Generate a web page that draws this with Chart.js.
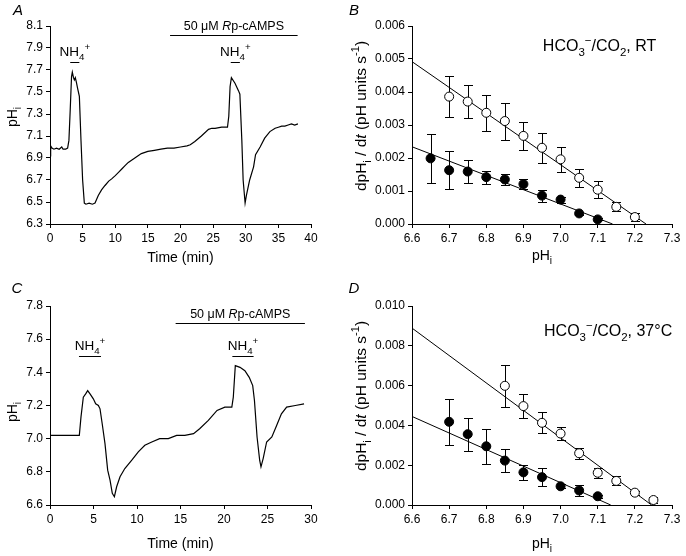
<!DOCTYPE html>
<html>
<head>
<meta charset="utf-8">
<script src="https://cdn.jsdelivr.net/npm/chart.js"></script>
<style>
body { margin: 0; background: #fff; width: 686px; height: 556px; position: relative; overflow: hidden }
canvas { position: absolute }
</style>
</head>
<body>
<canvas id="pA" width="343" height="278" style="left:0;top:0"></canvas>
<canvas id="pB" width="343" height="278" style="left:343px;top:0"></canvas>
<canvas id="pC" width="343" height="278" style="left:0;top:278px"></canvas>
<canvas id="pD" width="343" height="278" style="left:343px;top:278px"></canvas>
<script>
// panel A: pHi trace, room temperature
const A_TIME = [0, 0.1, 0.3, 0.6, 1.0, 1.4, 1.8, 2.0, 2.4, 2.7, 2.9, 3.1, 3.3, 3.42, 3.6, 3.73, 3.88, 4.04, 4.24, 4.5,
  4.75, 5.0, 5.26, 5.5, 6.0, 6.5, 6.9, 7.4, 7.9, 8.43, 9.0, 9.45, 10.0, 10.5, 11.0, 11.5, 12.0, 12.5, 13.0, 13.5,
  14.0, 15.0, 16.0, 17.0, 18.0, 19.0, 20.0, 21.0, 21.5, 22.2, 23.2, 24.3, 24.8, 25.3, 26.3, 27.2, 27.4, 27.6, 27.8, 28.35,
  28.9, 29.1, 29.4, 29.6, 29.9, 30.1, 30.6, 31.2, 31.5, 32.2, 32.9, 33.7, 34.5, 35.0, 35.5, 36.0, 36.5, 37.0, 37.5, 38.0]
const A_PHI = [6.92, 7.01, 6.99, 6.98, 6.99, 6.98, 7.0, 6.98, 6.98, 6.99, 7.06, 7.34, 7.64, 7.68, 7.63, 7.61, 7.63, 7.59, 7.53, 7.46,
  7.06, 6.70, 6.49, 6.48, 6.49, 6.48, 6.49, 6.56, 6.61, 6.65, 6.69, 6.71, 6.74, 6.77, 6.80, 6.83, 6.86, 6.88, 6.90, 6.92,
  6.94, 6.96, 6.97, 6.98, 6.99, 6.99, 7.0, 7.01, 7.02, 7.05, 7.10, 7.16, 7.17, 7.17, 7.18, 7.18, 7.28, 7.55, 7.63, 7.58,
  7.51, 7.48, 7.06, 6.70, 6.49, 6.56, 6.70, 6.82, 6.93, 7.0, 7.08, 7.14, 7.17, 7.18, 7.19, 7.19, 7.20, 7.21, 7.20, 7.21]
const A_NH4 = [[3.1, 4.5], [27.7, 29.1]]
const A_RP = [18.4, 37.95]
const A_XTICKS = [0, 5, 10, 15, 20, 25, 30, 35, 40]
const A_YTICKS = [6.3, 6.5, 6.7, 6.9, 7.1, 7.3, 7.5, 7.7, 7.9, 8.1]

// panel C: pHi trace, 37 C
const C_TIME = [0, 0.5, 1, 1.5, 2, 2.5, 3, 3.37, 3.56, 3.83, 4.1, 4.33, 4.6, 4.98, 5.25, 5.56, 5.75, 6.0, 6.32, 6.63,
  6.9, 7.16, 7.4, 7.66, 8.05, 8.6, 9.4, 10.15, 10.9, 11.7, 12.6, 13.6, 14.56, 15.5, 16.5, 17.2, 18.2, 19.2, 20.1, 20.9,
  21.07, 21.3, 21.84, 22.4, 22.9, 23.3, 23.5, 23.8, 24.1, 24.25, 24.5, 24.9, 25.5, 26.05, 26.6, 27.2, 28.2, 29.2]
const C_PHI = [7.02, 7.02, 7.02, 7.02, 7.02, 7.02, 7.02, 7.02, 7.13, 7.25, 7.27, 7.29, 7.27, 7.24, 7.21, 7.20, 7.18, 7.09, 6.97, 6.81,
  6.75, 6.67, 6.65, 6.71, 6.77, 6.82, 6.87, 6.92, 6.96, 6.98, 7.0, 7.0, 7.02, 7.02, 7.03, 7.06, 7.11, 7.17, 7.19, 7.19,
  7.25, 7.44, 7.43, 7.41, 7.37, 7.32, 7.23, 7.01, 6.87, 6.83, 6.88, 6.98, 7.01, 7.08, 7.15, 7.19, 7.20, 7.21]
const C_NH4 = [[3.33, 5.86], [20.96, 23.4]]
const C_RP = [14.44, 29.3]
const C_XTICKS = [0, 5, 10, 15, 20, 25, 30]
const C_YTICKS = [6.6, 6.8, 7.0, 7.2, 7.4, 7.6, 7.8]

// panel B: dpHi/dt vs pHi, RT (open = control, filled = Rp-cAMPS)
const B_OPEN_PH = [6.7, 6.75, 6.8, 6.85, 6.9, 6.95, 7.0, 7.05, 7.1, 7.15, 7.2]
const B_OPEN_RATE = [0.00386, 0.00371, 0.00337, 0.00312, 0.00267, 0.00231, 0.00196, 0.00140, 0.00104, 0.00052, 0.00021]
const B_OPEN_SEM = [0.00062, 0.00049, 0.00055, 0.00056, 0.00042, 0.00046, 0.00038, 0.00027, 0.00025, 0.000135, 0.000125]
const B_FILL_PH = [6.65, 6.7, 6.75, 6.8, 6.85, 6.9, 6.95, 7.0, 7.05, 7.1]
const B_FILL_RATE = [0.00199, 0.00163, 0.00159, 0.00142, 0.00135, 0.00121, 0.00086, 0.00074, 0.00032, 0.00014]
const B_FILL_SEM = [0.00074, 0.00058, 0.00035, 0.00020, 0.000155, 0.000155, 0.00018, 0.00009, 0.00004, 0.00003]
const B_OPEN_FIT = [[6.6, 0.00492], [7.23, 0]]
const B_FILL_FIT = [[6.6, 0.00234], [7.14, 0]]
const B_YTICKS = [0, 0.001, 0.002, 0.003, 0.004, 0.005, 0.006]

// panel D: dpHi/dt vs pHi, 37 C
const D_OPEN_PH = [6.85, 6.9, 6.95, 7.0, 7.05, 7.1, 7.15, 7.2, 7.25]
const D_OPEN_RATE = [0.00599, 0.00497, 0.00413, 0.00359, 0.00260, 0.00162, 0.00121, 0.00062, 0.00025]
const D_OPEN_SEM = [0.00106, 0.00059, 0.00053, 0.00033, 0.000285, 0.000255, 0.000225, 0.0001, 0.00015]
const D_FILL_PH = [6.7, 6.75, 6.8, 6.85, 6.9, 6.95, 7.0, 7.05, 7.1]
const D_FILL_RATE = [0.00418, 0.00356, 0.00295, 0.00223, 0.00164, 0.00140, 0.00094, 0.00073, 0.00044]
const D_FILL_SEM = [0.00114, 0.00083, 0.00087, 0.00059, 0.000375, 0.00044, 0.0001, 0.000285, 0.00008]
const D_OPEN_FIT = [[6.6, 0.00889], [7.245, 0]]
const D_FILL_FIT = [[6.6, 0.00445], [7.135, 0]]
const D_YTICKS = [0, 0.002, 0.004, 0.006, 0.008, 0.010]

const PH_TICKS = [6.6, 6.7, 6.8, 6.9, 7.0, 7.1, 7.2, 7.3]

const FONT = 'Arial, "Liberation Sans", Helvetica, sans-serif'
Chart.defaults.font.family = FONT
Chart.defaults.color = '#000'
Chart.defaults.animation = false

// tiny markup: _{sub} ^{sup} *italic*
function rich(s) {
  const out = []
  const re = /_\{([^}]*)\}|\^\{([^}]*)\}|\*([^*]*)\*|([^_^*]+)/g
  let m
  while ((m = re.exec(s))) {
    if (m[1] != null) out.push({ t: m[1], k: 'sub' })
    else if (m[2] != null) out.push({ t: m[2], k: 'sup' })
    else if (m[3] != null) out.push({ t: m[3], k: 'it' })
    else out.push({ t: m[4], k: '' })
  }
  return out
}

function segFont(seg, size) {
  const sz = (seg.k === 'sub' || seg.k === 'sup') ? size * 0.72 : size
  return (seg.k === 'it' ? 'italic ' : '') + sz + 'px ' + FONT
}

function drawRich(ctx, str, x, y, size, align) {
  const parts = rich(str)
  let w = 0
  parts.forEach(p => { ctx.font = segFont(p, size); p.w = ctx.measureText(p.t).width; w += p.w })
  let cx = align === 'center' ? x - w / 2 : align === 'right' ? x - w : x
  ctx.textAlign = 'left'
  ctx.textBaseline = 'alphabetic'
  parts.forEach(p => {
    ctx.font = segFont(p, size)
    const dy = p.k === 'sub' ? size * 0.3 : p.k === 'sup' ? -size * 0.42 : 0
    ctx.fillText(p.t, cx, y + dy)
    cx += p.w
  })
}

const decor = {
  id: 'decor',
  beforeDatasetsDraw(chart) {
    const ctx = chart.ctx, ys = chart.scales.y
    chart.data.datasets.forEach((ds, i) => {
      if (!ds.errors) return
      const meta = chart.getDatasetMeta(i)
      ctx.save()
      ctx.strokeStyle = '#000'
      ctx.lineWidth = 1
      meta.data.forEach((pt, j) => {
        const v = ds.data[j].y, e = ds.errors[j]
        const px = Math.round(pt.x) + 0.5
        const top = Math.round(ys.getPixelForValue(v + e)) + 0.5
        const bot = Math.round(ys.getPixelForValue(v - e)) + 0.5
        ctx.beginPath()
        ctx.moveTo(px, top); ctx.lineTo(px, bot)
        ctx.moveTo(px - 4.5, top); ctx.lineTo(px + 4.5, top)
        ctx.moveTo(px - 4.5, bot); ctx.lineTo(px + 4.5, bot)
        ctx.stroke()
      })
      ctx.restore()
    })
  },
  afterDraw(chart, args, o) {
    const ctx = chart.ctx, xs = chart.scales.x, ys = chart.scales.y
    const area = chart.chartArea
    ctx.save()
    ctx.fillStyle = '#000'
    ctx.strokeStyle = '#000'
    // panel letter
    ctx.font = 'italic 15px ' + FONT
    ctx.textAlign = 'center'
    ctx.textBaseline = 'middle'
    ctx.fillText(o.letter, o.letterX, 11)
    // axis titles
    drawRich(ctx, o.xTitle, (area.left + area.right) / 2, o.xTitleY, 14, 'center')
    ctx.save()
    ctx.translate(o.yTitleX, o.yTitleY)
    ctx.rotate(-Math.PI / 2)
    drawRich(ctx, o.yTitle, 0, 5, o.yTitleSize || 14, 'center')
    ctx.restore()
    // application bars with their labels
    ;(o.bars || []).forEach(b => {
      const x0 = xs.getPixelForValue(b.from), x1 = xs.getPixelForValue(b.to)
      const y = Math.round(ys.getPixelForValue(b.y)) + 0.5
      ctx.lineWidth = 1
      ctx.beginPath(); ctx.moveTo(x0, y); ctx.lineTo(x1, y); ctx.stroke()
      drawRich(ctx, b.label, (x0 + x1) / 2, y - b.gap, b.size, 'center')
    })
    ;(o.labels || []).forEach(l => {
      drawRich(ctx, l.text, xs.getPixelForValue(l.x), ys.getPixelForValue(l.y), l.size, 'center')
    })
    ctx.restore()
  }
}

function axis(min, max, ticks, digits, size) {
  return {
    type: 'linear', min, max,
    afterBuildTicks: s => { s.ticks = ticks.map(v => ({ value: v })) },
    afterFit: s => { if (s.isHorizontal()) s.height = size; else s.width = size },
    ticks: { callback: v => v.toFixed(digits), color: '#000', font: { size: 12 }, padding: 3, autoSkip: false, maxRotation: 0 },
    grid: { drawOnChartArea: false, drawTicks: true, tickLength: 4, color: '#000', tickColor: '#000' },
    border: { color: '#000', width: 1 }
  }
}

const pts = (xs, ys) => xs.map((x, i) => ({ x, y: ys[i] }))
const fitPts = arr => arr.map(p => ({ x: p[0], y: p[1] }))

function traceChart(id, letter, time, phi, xTicks, yTicks, nh4, rp, barYs, pad, xH, titles) {
  const bars = nh4.map(p => ({ from: p[0], to: p[1], y: barYs[0], label: 'NH_{4}^{+}', size: 13.5, gap: 7 }))
  bars.push({ from: rp[0], to: rp[1], y: barYs[1], label: '50 μM *R*p-cAMPS', size: 12.5, gap: 6 })
  new Chart(document.getElementById(id), {
    type: 'line',
    data: {
      datasets: [{
        data: pts(time, phi), borderColor: '#000', borderWidth: 1.2, pointRadius: 0, tension: 0, fill: false
      }]
    },
    options: {
      responsive: false,
      layout: { padding: pad },
      scales: {
        x: axis(xTicks[0], xTicks[xTicks.length - 1], xTicks, 0, xH),
        y: axis(yTicks[0], yTicks[yTicks.length - 1], yTicks, 1, 50)
      },
      plugins: {
        legend: { display: false }, tooltip: { enabled: false },
        decor: Object.assign({ letter, xTitle: 'Time (min)', yTitle: 'pH_{i}', bars }, titles)
      }
    },
    plugins: [decor]
  })
}

function rateChart(id, letter, open, fill, openFit, fillFit, yTicks, pad, xH, cond, titles) {
  const scatter = (d, bg) => ({
    type: 'scatter', data: pts(d[0], d[1]), errors: d[2], order: 1,
    pointRadius: 4.5, pointBorderWidth: 1, borderColor: '#000', pointBackgroundColor: bg, backgroundColor: bg
  })
  const fit = arr => ({
    type: 'line', data: fitPts(arr), order: 2, borderColor: '#000', borderWidth: 1, pointRadius: 0, tension: 0
  })
  new Chart(document.getElementById(id), {
    type: 'scatter',
    data: { datasets: [fit(openFit), fit(fillFit), scatter(open, '#fff'), scatter(fill, '#000')] },
    options: {
      responsive: false,
      layout: { padding: pad },
      scales: {
        x: axis(6.6, 7.3, PH_TICKS, 1, xH),
        y: axis(yTicks[0], yTicks[yTicks.length - 1], yTicks, 3, 69)
      },
      plugins: {
        legend: { display: false }, tooltip: { enabled: false },
        decor: Object.assign({
          letter, xTitle: 'pH_{i}', yTitle: 'dpH_{i} / d*t* (pH units s^{-1})', yTitleSize: 15.5,
          labels: [{ text: cond.text, x: cond.x, y: cond.y, size: 16 }]
        }, titles)
      }
    },
    plugins: [decor]
  })
}

traceChart('pA', 'A', A_TIME, A_PHI, A_XTICKS, A_YTICKS, A_NH4, A_RP, [7.77, 8.015],
  { left: 0, right: 32, top: 26, bottom: 0 }, 54,
  { letterX: 18, xTitleY: 262, yTitleX: 12, yTitleY: 117 })

traceChart('pC', 'C', C_TIME, C_PHI, C_XTICKS, C_YTICKS, C_NH4, C_RP, [7.50, 7.70],
  { left: 0, right: 32, top: 28, bottom: 0 }, 51,
  { letterX: 17, xTitleY: 270, yTitleX: 12, yTitleY: 134 })

rateChart('pB', 'B',
  [B_OPEN_PH, B_OPEN_RATE, B_OPEN_SEM], [B_FILL_PH, B_FILL_RATE, B_FILL_SEM],
  B_OPEN_FIT, B_FILL_FIT, B_YTICKS,
  { left: 0, right: 14, top: 26, bottom: 0 }, 54,
  { text: 'HCO_{3}^{−}/CO_{2}, RT', x: 7.105, y: 0.00524 },
  { letterX: 11, xTitleY: 260, yTitleX: 18, yTitleY: 116 })

rateChart('pD', 'D',
  [D_OPEN_PH, D_OPEN_RATE, D_OPEN_SEM], [D_FILL_PH, D_FILL_RATE, D_FILL_SEM],
  D_OPEN_FIT, D_FILL_FIT, D_YTICKS,
  { left: 0, right: 14, top: 28, bottom: 0 }, 51,
  { text: 'HCO_{3}^{−}/CO_{2}, 37°C', x: 7.128, y: 0.00849 },
  { letterX: 11, xTitleY: 270, yTitleX: 18, yTitleY: 118 })
</script>
</body>
</html>
